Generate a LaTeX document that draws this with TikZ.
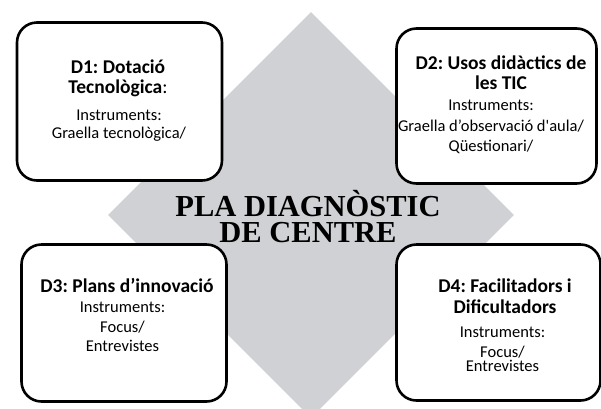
\documentclass[tikz,border=0pt]{standalone}
\usepackage{fontspec}
\setmainfont{Carlito}
\newfontfamily\planfont{Liberation Serif}
\usetikzlibrary{shapes.geometric, positioning}
\definecolor{plangray}{RGB}{208,209,212}
\frenchspacing

\begin{document}
\begin{tikzpicture}[x=1pt, y=-1pt,
  plan/.style={diamond, fill=plangray, minimum width=406pt, minimum height=406pt, inner sep=0pt},
  plantitle/.style={align=center, anchor=north, inner sep=0pt,
    font=\planfont\bfseries\fontsize{30.5}{26}\selectfont},
  dimbox/.style={rectangle, draw=black, line width=2.6pt, rounded corners=20pt,
    fill=white, inner sep=0pt},
  dimtitle/.style={align=center, anchor=north, inner sep=0pt,
    font=\bfseries\fontsize{19.5}{20.5}\selectfont},
  diminfo/.style={align=center, anchor=north, inner sep=0pt,
    font=\fontsize{16.5}{20}\selectfont}
]
\useasboundingbox (0,0) rectangle (601,408);

% fons
\node (plan) [plan] at (311,215) {};
\node (plantext) [plantitle] at (308,190) {PLA DIAGNÒSTIC\\DE CENTRE};

% dimensions
\node (d1) [dimbox, minimum width=205pt, minimum height=158pt] at (119.5,101.5) {};
\node (d2) [dimbox, minimum width=200pt, minimum height=155pt] at (496.5,106) {};
\node (d3) [dimbox, minimum width=205pt, minimum height=157pt] at (124,323) {};
\node (d4) [dimbox, minimum width=204pt, minimum height=156pt] at (498.5,322.5) {};

\node (d1title) [dimtitle] at (118,59.5) {D1: Dotació\\Tecnològica\mdseries:};
\node (d1info) [diminfo, font=\fontsize{16.5}{17.5}\selectfont] at (119,110)
  {Instruments:\\Graella tecnològica/};

\node (d2title) [dimtitle] at (501,55.5) {D2: Usos didàctics de\\les TIC};
\node (d2info) [diminfo, font=\fontsize{16.5}{20.5}\selectfont] at (491,100)
  {Instruments:\\Graella d’observació d\textquotesingle aula/\\Qüestionari/};

\node (d3title) [dimtitle] at (127,278) {D3: Plans d’innovació};
\node (d3info) [diminfo, font=\fontsize{16.5}{19.5}\selectfont] at (122.5,302)
  {Instruments:\\Focus/\\Entrevistes};

\node (d4title) [dimtitle] at (505,279) {D4: Facilitadors i\\Dificultadors};
\node (d4info) [diminfo] at (502.5,327)
  {Instruments:\\Focus/\\[-6pt]Entrevistes};

\end{tikzpicture}
\end{document}
